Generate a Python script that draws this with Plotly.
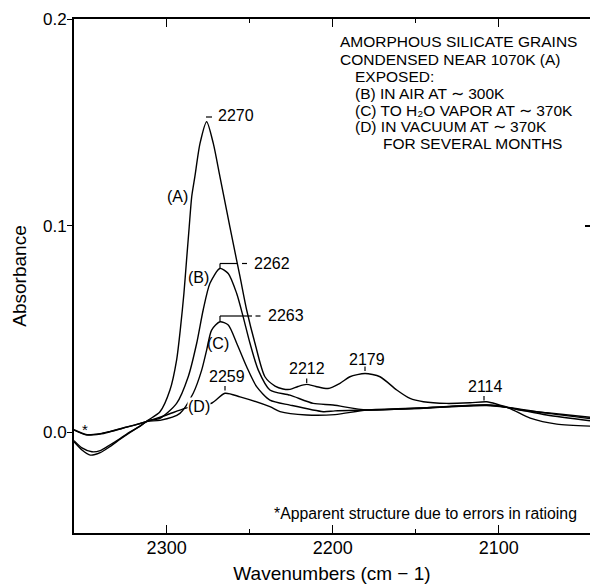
import plotly.graph_objects as go

# ---------------- data ----------------
wn_a = [2355.8, 2351, 2346, 2340, 2334, 2328, 2322, 2316, 2311.3, 2304.0, 2298.0, 2294.0,
        2291.6, 2289.6, 2288.0, 2286.4, 2284.9, 2283.0, 2279.9, 2275.9, 2271.9, 2267.9,
        2263.9, 2259.9, 2255.8, 2251.8, 2246.8, 2240.8, 2234.7, 2229.9, 2225.7, 2220.9,
        2215.7, 2210.1, 2202.8, 2195.6, 2189.6, 2180.5, 2171.5, 2161.4, 2153.4, 2145.4,
        2131.3, 2117.3, 2107.2, 2099.2, 2087.2, 2071.1, 2045.0]
abs_a = [-0.0045, -0.0085, -0.0110, -0.0098, -0.0068, -0.0033, 0.0000, 0.0030, 0.0058,
         0.0100, 0.0205, 0.0350, 0.0510, 0.0672, 0.0834, 0.0995, 0.1140, 0.1237, 0.1398,
         0.1503, 0.1398, 0.1237, 0.1075, 0.0914, 0.0753, 0.0592, 0.0431, 0.0269, 0.0224,
         0.0210, 0.0208, 0.0222, 0.0232, 0.0222, 0.0212, 0.0237, 0.0269, 0.0285, 0.0269,
         0.0205, 0.0164, 0.0148, 0.0140, 0.0143, 0.0148, 0.0132, 0.0108, 0.0095, 0.0073]

wn_b = [2355.8, 2351, 2345, 2340, 2334, 2328, 2322, 2316, 2311.3, 2304.0, 2294.0, 2287.0,
        2281.9, 2278.0, 2273.9, 2267.9, 2262.9, 2257.8, 2253.9, 2249.8, 2244.8, 2237.8,
        2225.7, 2211.7, 2199.8, 2179.5, 2147.4, 2107.2, 2095.2, 2071.1, 2045.0]
abs_b = [-0.0040, -0.0075, -0.0094, -0.0088, -0.0060, -0.0030, 0.0002, 0.0030, 0.0056,
         0.0068, 0.0140, 0.0269, 0.0431, 0.0592, 0.0721, 0.0793, 0.0769, 0.0672, 0.0559,
         0.0431, 0.0301, 0.0205, 0.0180, 0.0140, 0.0132, 0.0108, 0.0118, 0.0132, 0.0121,
         0.0084, 0.0056]

wn_c = [2355.8, 2348, 2340, 2334, 2324, 2316, 2311.3, 2304.0, 2292.0, 2284.0, 2278.9,
        2275.9, 2272.9, 2267.9, 2262.9, 2257.8, 2251.8, 2245.8, 2237.8, 2225.7, 2205.7,
        2198.6, 2179.5, 2147.4, 2107.2, 2095.2, 2081, 2065, 2045]
abs_c = [0.0011, -0.0013, -0.0008, 0.0003, 0.0025, 0.0042, 0.0054, 0.0058, 0.0092,
         0.0189, 0.0301, 0.0398, 0.0495, 0.0535, 0.0519, 0.0431, 0.0317, 0.0221, 0.0156,
         0.0132, 0.0100, 0.0104, 0.0108, 0.0115, 0.0132, 0.0121, 0.0069, 0.0040, 0.0030]

wn_d = [2355.8, 2348, 2340, 2334, 2324, 2316, 2311.3, 2300, 2289.0, 2281, 2272.7, 2264.9,
        2255.8, 2237.8, 2231.7, 2215.7, 2198.6, 2179.5, 2147.4, 2107.2, 2095.2, 2071.1,
        2045]
abs_d = [0.0013, -0.0011, -0.0006, 0.0005, 0.0026, 0.0043, 0.0054, 0.0084, 0.0116,
         0.0130, 0.0142, 0.0189, 0.0172, 0.0124, 0.0100, 0.0084, 0.0086, 0.0108, 0.0118,
         0.0130, 0.0121, 0.0093, 0.0067]

x_ticks = [2300, 2200, 2100]
x_minor = [2250, 2150]
y_ticks = [0.0, 0.1, 0.2]
y_ticklabels = ["0.0", "0.1", "0.2"]
x_title = "Wavenumbers (cm \u2212 1)"
y_title = "Absorbance"

legend_lines = [
    "AMORPHOUS SILICATE GRAINS",
    "CONDENSED NEAR 1070K (A)",
    "EXPOSED:",
    "(B) IN AIR AT \u223c 300K",
    "(C) TO H\u2082O VAPOR AT \u223c 370K",
    "(D) IN VACUUM AT \u223c 370K",
    "FOR SEVERAL MONTHS",
]
peak_labels = ["2270", "2262", "2263", "2259", "2212", "2179", "2114"]
curve_labels = ["(A)", "(B)", "(C)", "(D)"]
footnote = "*Apparent structure due to errors in ratioing"

# ---------------- layout helpers ----------------
W, H = 590, 588
L, T, R, B = 74, 19, 0, 55
PW, PH = W - L - R, H - T - B
FONT = "Liberation Sans, Arial, Helvetica, sans-serif"


def px(x):
    return (x - L) / PW


def py(y):
    return (T + PH - y) / PH


fig = go.Figure()
series = [(wn_a, abs_a, "y"), (wn_b, abs_b, "y"), (wn_c, abs_c, "y"), (wn_d, abs_d, "y2")]
for wn, ab, yax in series:
    fig.add_trace(go.Scatter(x=wn, y=ab, mode="lines", yaxis=yax,
                             line=dict(color="black", width=1.4, shape="spline", smoothing=0.7),
                             hoverinfo="skip", showlegend=False))

annotations = []


def text(s, x, y, size=16, xanchor="center", bg=None):
    d = dict(text=s, x=px(x), y=py(y), xref="paper", yref="paper", showarrow=False,
             xanchor=xanchor, yanchor="middle", font=dict(family=FONT, size=size, color="black"),
             borderpad=0)
    if bg:
        d["bgcolor"] = bg
    annotations.append(d)


# legend block (top right)
legend_pos = [(339, 41.7), (339, 59.3), (354, 76.7), (354, 93.3), (354, 110), (354, 126.5), (381.7, 143)]
for s, (x, y) in zip(legend_lines, legend_pos):
    text(s, x, y, size=15.5, xanchor="left")

# curve labels
text(curve_labels[0], 177, 196)
text(curve_labels[1], 198.5, 277)
text(curve_labels[2], 217.5, 343)
text(curve_labels[3], 199, 406, bg="white")

# peak labels
text(peak_labels[0], 236, 115.5)
text(peak_labels[1], 272, 263)
text(peak_labels[2], 286, 315.5)
text(peak_labels[3], 227, 376.5)
text(peak_labels[4], 306.5, 368.5)
text(peak_labels[5], 367, 359.5)
text(peak_labels[6], 485, 386.5)

# asterisk and footnote
text("*", 84.5, 429, size=15)
text(footnote, 578, 513.5, size=15.8, xanchor="right")

# leader marks
shapes = []


def seg(x0, y0, x1, y1):
    shapes.append(dict(type="line", xref="paper", yref="paper", x0=px(x0), y0=py(y0),
                       x1=px(x1), y1=py(y1), line=dict(color="black", width=1.2)))


seg(206, 117, 212, 117)          # 2270
seg(220, 268, 220, 263.5)        # 2262
seg(220, 263.5, 237, 263.5)
seg(242, 263.5, 247, 263.5)
seg(220, 321, 220, 316)          # 2263
seg(220, 316, 252, 316)
seg(255.5, 316, 260.5, 316)
seg(225, 386, 225, 390.5)        # 2259
seg(306.7, 378.5, 306.7, 383)    # 2212
seg(365, 366.5, 365, 371)        # 2179
seg(484, 396, 484, 400.5)        # 2114

yrange = [-0.0487, 0.2]
fig.update_layout(
    width=W, height=H,
    margin=dict(l=L, r=R, t=T, b=B, pad=0),
    paper_bgcolor="white", plot_bgcolor="white",
    showlegend=False,
    annotations=annotations,
    shapes=shapes,
    xaxis=dict(range=[2355.8, 2045.0], tickmode="array", tickvals=x_ticks,
               ticktext=[str(v) for v in x_ticks], ticks="inside", ticklen=8, tickwidth=1.3,
               tickcolor="black", showline=True, linecolor="black", linewidth=1.8,
               mirror="ticks", showgrid=False, zeroline=False, ticklabelstandoff=-3,
               tickfont=dict(family=FONT, size=18, color="black"),
               title=dict(text=x_title, standoff=10,
                          font=dict(family=FONT, size=19, color="black")),
               minor=dict(tickmode="array", tickvals=x_minor, ticks="inside", ticklen=4,
                          tickwidth=1.3, tickcolor="black", showgrid=False)),
    yaxis=dict(range=yrange, tickmode="array", tickvals=y_ticks, ticktext=y_ticklabels,
               ticks="outside", ticklen=5, tickwidth=1.3, tickcolor="black",
               showline=True, linecolor="black", linewidth=1.8, showgrid=False, zeroline=False,
               ticklabelstandoff=-3,
               title=dict(text=y_title, standoff=11,
                          font=dict(family=FONT, size=19, color="black")),
               tickfont=dict(family=FONT, size=17, color="black")),
    yaxis2=dict(range=yrange, overlaying="y", side="right", tickmode="array",
                tickvals=[0.1], ticks="inside", ticklen=5, tickwidth=1.5, tickcolor="black",
                showticklabels=False, showline=False, showgrid=False, zeroline=False),
)

fig.write_html("out.html", config={"displayModeBar": False},
               post_script="document.body.style.margin='0px';")
